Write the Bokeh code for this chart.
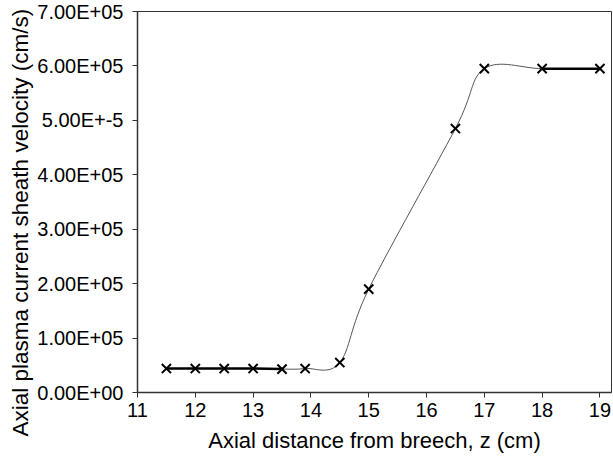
from bokeh.plotting import figure
from bokeh.embed import file_html
from bokeh.resources import INLINE
from bokeh.models import Range1d, FixedTicker, Title

# data
z_cm = [11.5, 12.0, 12.5, 13.0, 13.5, 13.9, 14.5, 15.0, 16.5, 17.0, 18.0, 19.0]
velocity = [4.4e4, 4.4e4, 4.4e4, 4.4e4, 4.3e4, 4.4e4, 5.5e4, 1.9e5, 4.85e5, 5.95e5, 5.95e5, 5.95e5]
y_ticks = [0, 1e5, 2e5, 3e5, 4e5, 5e5, 6e5, 7e5]
y_tick_labels = ["0.00E+00", "1.00E+05", "2.00E+05", "3.00E+05", "4.00E+05",
                 "5.00E+-5", "6.00E+05", "7.00E+05"]
x_ticks = [11, 12, 13, 14, 15, 16, 17, 18, 19]
x_title = "Axial distance from breech, z (cm)"
y_title = "Axial plasma current sheath velocity (cm/s)"

FONT = "Liberation Sans"

p = figure(width=613, height=463, output_backend="svg", toolbar_location=None,
           x_range=Range1d(11, 19.2), y_range=Range1d(0, 7e5),
           min_border_left=137, min_border_right=2, min_border_top=11, min_border_bottom=71)
p.xgrid.visible = False
p.ygrid.visible = False
p.outline_line_color = "#333333"
p.outline_line_width = 1
p.background_fill_color = "white"
p.border_fill_color = "white"

# smooth (Excel-like) curve through the points via Bezier segments
n = len(z_cm)
x0, y0, x1, y1, cx0, cy0, cx1, cy1 = [], [], [], [], [], [], [], []
for i in range(n - 1):
    xm, ym = (z_cm[i - 1], velocity[i - 1]) if i > 0 else (z_cm[i], velocity[i])
    xp2, yp2 = (z_cm[i + 2], velocity[i + 2]) if i + 2 < n else (z_cm[i + 1], velocity[i + 1])
    x0.append(z_cm[i]); y0.append(velocity[i])
    x1.append(z_cm[i + 1]); y1.append(velocity[i + 1])
    cx0.append(z_cm[i] + (z_cm[i + 1] - xm) / 6); cy0.append(velocity[i] + (velocity[i + 1] - ym) / 6)
    cx1.append(z_cm[i + 1] - (xp2 - z_cm[i]) / 6); cy1.append(velocity[i + 1] - (yp2 - velocity[i]) / 6)
p.bezier(x0=x0, y0=y0, x1=x1, y1=y1, cx0=cx0, cy0=cy0, cx1=cx1, cy1=cy1,
         line_color="#555555", line_width=1)

# heavier segments on the flat parts
p.line(z_cm[:5], velocity[:5], line_color="black", line_width=2.5)
p.line(z_cm[10:], velocity[10:], line_color="black", line_width=2.5)

p.scatter(z_cm, velocity, marker="x", size=13, line_color="black", line_width=2)

# axes
p.xaxis.ticker = FixedTicker(ticks=x_ticks)
p.yaxis.ticker = FixedTicker(ticks=y_ticks)
p.yaxis.major_label_overrides = {t: l for t, l in zip(y_ticks, y_tick_labels)}
for ax in (p.xaxis[0], p.yaxis[0]):
    ax.axis_line_color = "#333333"
    ax.axis_line_width = 1.5
    ax.major_tick_line_color = "#333333"
    ax.major_tick_out = 5
    ax.major_tick_in = 0
    ax.minor_tick_line_color = None
    ax.major_label_text_font = FONT
    ax.major_label_text_font_size = "20px"
    ax.major_label_text_color = "black"
p.xaxis.major_label_standoff = 5
p.yaxis.major_label_standoff = 9

p.xaxis.axis_label = x_title
p.xaxis.axis_label_text_font = FONT
p.xaxis.axis_label_text_font_size = "22px"
p.xaxis.axis_label_text_font_style = "normal"
p.xaxis.axis_label_text_color = "black"
p.xaxis.axis_label_standoff = 8

# y title as a side title so it can be shifted along the axis like the reference
p.add_layout(Title(text=y_title, align="left", offset=-44, text_font=FONT,
                   text_font_size="22.5px", text_font_style="normal",
                   text_color="black", standoff=4), "left")

open("out.html", "w").write(file_html(p, INLINE))
